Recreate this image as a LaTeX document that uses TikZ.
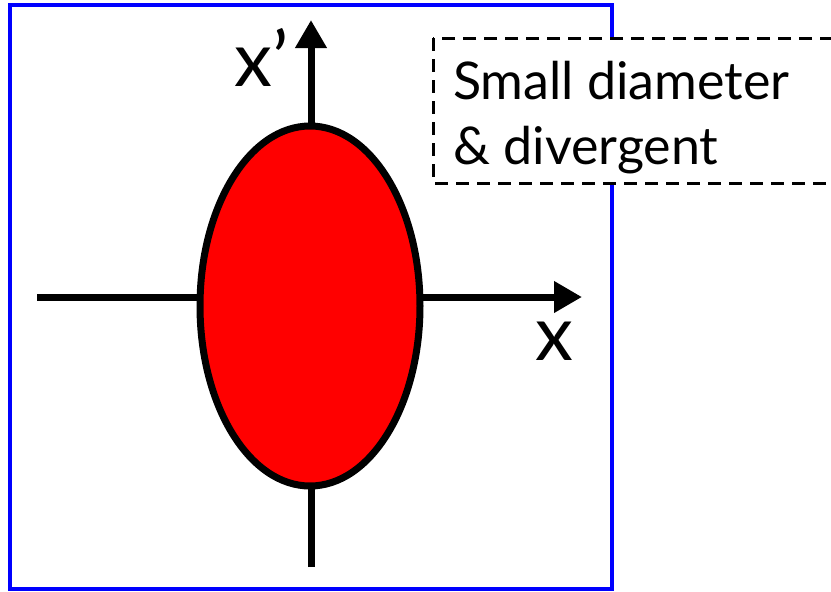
\documentclass[tikz,border=0pt]{standalone}
\usepackage{fontspec}
\setmainfont{Lato}
\usetikzlibrary{arrows.meta,shapes.geometric}
\tikzset{
  axis/.style={line width=7pt, line cap=butt},
  axisarrow/.style={axis, -{Triangle[length=28pt,width=30pt]}},
  frame/.style={draw=blue, line width=3.5pt},
  note/.style={draw=black, dash pattern=on 13pt off 8pt, line width=3pt, fill=white},
  lbl/.style={font=\fontsize{76}{80}\selectfont, inner sep=0pt},
  notetext/.style={font=\fontsize{52}{65}\selectfont, inner sep=0pt, align=left, anchor=north west}
}
\begin{document}
\begin{tikzpicture}[x=1pt,y=-1pt]
\useasboundingbox (0,0) rectangle (831,592);
\draw[frame] (10,5) rectangle (612,589);
\coordinate (hL) at (37,297);
\coordinate (hR) at (582,297);
\coordinate (vB) at (311,567);
\coordinate (vT) at (311,20);
\draw[axisarrow] (hL) -- (hR);
\draw[axisarrow] (vB) -- (vT);
\node[ellipse, draw=black, fill=red, line width=7pt, minimum width=220pt, minimum height=360pt, inner sep=0pt] (beam) at (310,306) {};
\node[lbl, anchor=base] (xp) at (262,86) {x’};
\node[lbl, anchor=base] (x) at (554,360) {x};
\draw[note] (433,38) rectangle (845,183);
\node[notetext] (txt) at (453,61) {Small diameter\\\& divergent};
\end{tikzpicture}
\end{document}
